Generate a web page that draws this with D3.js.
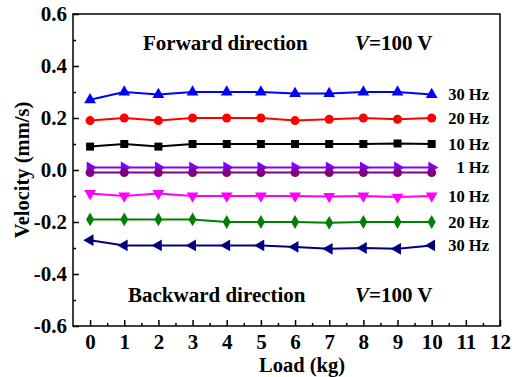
<!DOCTYPE html>
<html>
<head>
<meta charset="utf-8">
<script src="https://cdn.jsdelivr.net/npm/d3@7"></script>
<style>
  body { margin: 0; background: #fff; }
  text { font-family: "Liberation Serif", "Times New Roman", serif; font-weight: bold; }
</style>
</head>
<body>
<div id="chart"></div>
<script>
// load values (kg)
const loads = [0, 1, 2, 3, 4, 5, 6, 7, 8, 9, 10];

// velocity (mm/s) per series
const fwd30 = [0.27, 0.30, 0.29, 0.30, 0.30, 0.30, 0.294, 0.294, 0.30, 0.30, 0.29];
const fwd20 = [0.19, 0.20, 0.19, 0.20, 0.20, 0.20, 0.19, 0.195, 0.20, 0.195, 0.20];
const fwd10 = [0.09, 0.10, 0.09, 0.10, 0.10, 0.10, 0.10, 0.10, 0.10, 0.102, 0.10];
const fwd1  = [0.01, 0.01, 0.01, 0.01, 0.01, 0.01, 0.01, 0.01, 0.01, 0.01, 0.01];
const bwd1  = [-0.01, -0.01, -0.01, -0.01, -0.01, -0.01, -0.01, -0.01, -0.01, -0.01, -0.01];
const bwd10 = [-0.09, -0.10, -0.09, -0.10, -0.10, -0.10, -0.10, -0.102, -0.10, -0.104, -0.10];
const bwd20 = [-0.19, -0.19, -0.19, -0.19, -0.20, -0.20, -0.20, -0.203, -0.20, -0.20, -0.20];
const bwd30 = [-0.27, -0.29, -0.29, -0.29, -0.29, -0.29, -0.296, -0.303, -0.30, -0.303, -0.29];

const seriesNames = ["30 Hz", "20 Hz", "10 Hz", "1 Hz", "", "10 Hz", "20 Hz", "30 Hz"];
const xTicks = [0, 1, 2, 3, 4, 5, 6, 7, 8, 9, 10, 11, 12];
const yTicks = [-0.6, -0.4, -0.2, 0.0, 0.2, 0.4, 0.6];

const series = [
  {name: seriesNames[0], values: fwd30, color: "#0000ff", shape: d3.symbolTriangle, rot: 0},
  {name: seriesNames[1], values: fwd20, color: "#ff0000", shape: d3.symbolCircle, rot: 0},
  {name: seriesNames[2], values: fwd10, color: "#000000", shape: d3.symbolSquare, rot: 0},
  {name: seriesNames[3], values: fwd1, color: "#8000ff", shape: d3.symbolTriangle, rot: 90},
  {name: seriesNames[4], values: bwd1, color: "#800080", shape: d3.symbolCircle, rot: 0},
  {name: seriesNames[5], values: bwd10, color: "#ff00ff", shape: d3.symbolTriangle, rot: 180},
  {name: seriesNames[6], values: bwd20, color: "#008000", shape: d3.symbolDiamond, rot: 0},
  {name: seriesNames[7], values: bwd30, color: "#000080", shape: d3.symbolTriangle, rot: -90}
];

const width = 516, height = 377;
const margin = {top: 14, right: 16, bottom: 51, left: 73};

const svg = d3.select("#chart").append("svg")
    .attr("width", width)
    .attr("height", height);

const x = d3.scaleLinear([-0.5, 12], [margin.left, width - margin.right]);
const y = d3.scaleLinear([-0.6, 0.6], [height - margin.bottom, margin.top]);

const fmtY = d => d3.format(".1f")(d).replace("\u2212", "-");

// minor ticks
svg.append("g")
    .attr("transform", `translate(0,${height - margin.bottom})`)
    .call(d3.axisBottom(x).tickValues(d3.range(0.5, 12, 1)).tickSize(-3).tickFormat(""))
    .call(g => g.select(".domain").remove())
    .call(g => g.selectAll("line").attr("stroke-width", 1.5));
svg.append("g")
    .attr("transform", `translate(${margin.left},0)`)
    .call(d3.axisLeft(y).tickValues([-0.5, -0.3, -0.1, 0.1, 0.3, 0.5]).tickSize(-3).tickFormat(""))
    .call(g => g.select(".domain").remove())
    .call(g => g.selectAll("line").attr("stroke-width", 1.5));

// major ticks
svg.append("g")
    .attr("transform", `translate(0,${height - margin.bottom})`)
    .call(d3.axisBottom(x).tickValues(xTicks).tickSize(-6).tickPadding(8).tickFormat(d3.format("d")))
    .call(g => g.select(".domain").remove())
    .call(g => g.selectAll("line").attr("stroke-width", 1.5))
    .call(g => g.selectAll("text").attr("font-size", 21).attr("fill", "#000"));
svg.append("g")
    .attr("transform", `translate(${margin.left},0)`)
    .call(d3.axisLeft(y).tickValues(yTicks).tickSize(-6).tickPadding(6).tickFormat(fmtY))
    .call(g => g.select(".domain").remove())
    .call(g => g.selectAll("line").attr("stroke-width", 1.5))
    .call(g => g.selectAll("text").attr("font-size", 21).attr("fill", "#000"));

// frame
svg.append("rect")
    .attr("x", margin.left)
    .attr("y", margin.top)
    .attr("width", width - margin.left - margin.right)
    .attr("height", height - margin.top - margin.bottom)
    .attr("fill", "none")
    .attr("stroke", "#000")
    .attr("stroke-width", 1.5);

const line = d3.line()
    .x((d, i) => x(loads[i]))
    .y(d => y(d));

const sg = svg.append("g").selectAll("g")
  .data(series)
  .join("g");

sg.append("path")
    .attr("d", d => line(d.values))
    .attr("fill", "none")
    .attr("stroke", d => d.color)
    .attr("stroke-width", 2);

sg.selectAll("path.m")
  .data(d => d.values.map((v, i) => ({v, i, s: d})))
  .join("path")
    .attr("class", "m")
    .attr("transform", d => `translate(${x(loads[d.i])},${y(d.v)}) rotate(${d.s.rot})`)
    .attr("d", d => d3.symbol(d.s.shape, d.s.shape === d3.symbolDiamond ? 55 : d.s.shape === d3.symbolTriangle ? 60 : 64)())
    .attr("fill", d => d.s.color);

// series labels at right
sg.filter(d => d.name !== "")
  .append("text")
    .attr("x", 489)
    .attr("y", d => y(d.values[d.values.length - 1]))
    .attr("dy", "0.35em")
    .attr("text-anchor", "end")
    .attr("font-size", 16.5)
    .attr("fill", "#000")
    .text(d => d.name);

// annotations
const notes = svg.append("g").attr("font-size", 21).attr("fill", "#000");
notes.append("text").attr("x", 143).attr("y", 50).text("Forward direction");
notes.append("text").attr("x", 128).attr("y", 302).text("Backward direction");
[50, 302].forEach(yy => {
  const t = notes.append("text").attr("x", 355).attr("y", yy);
  t.append("tspan").attr("font-style", "italic").text("V");
  t.append("tspan").text("=100 V");
});

// axis titles
svg.append("text")
    .attr("x", 302)
    .attr("y", 372)
    .attr("text-anchor", "middle")
    .attr("font-size", 20.5)
    .text("Load (kg)");
svg.append("text")
    .attr("transform", `translate(29,${y(0)}) rotate(-90)`)
    .attr("text-anchor", "middle")
    .attr("font-size", 20.5)
    .text("Velocity (mm/s)");
</script>
</body>
</html>
